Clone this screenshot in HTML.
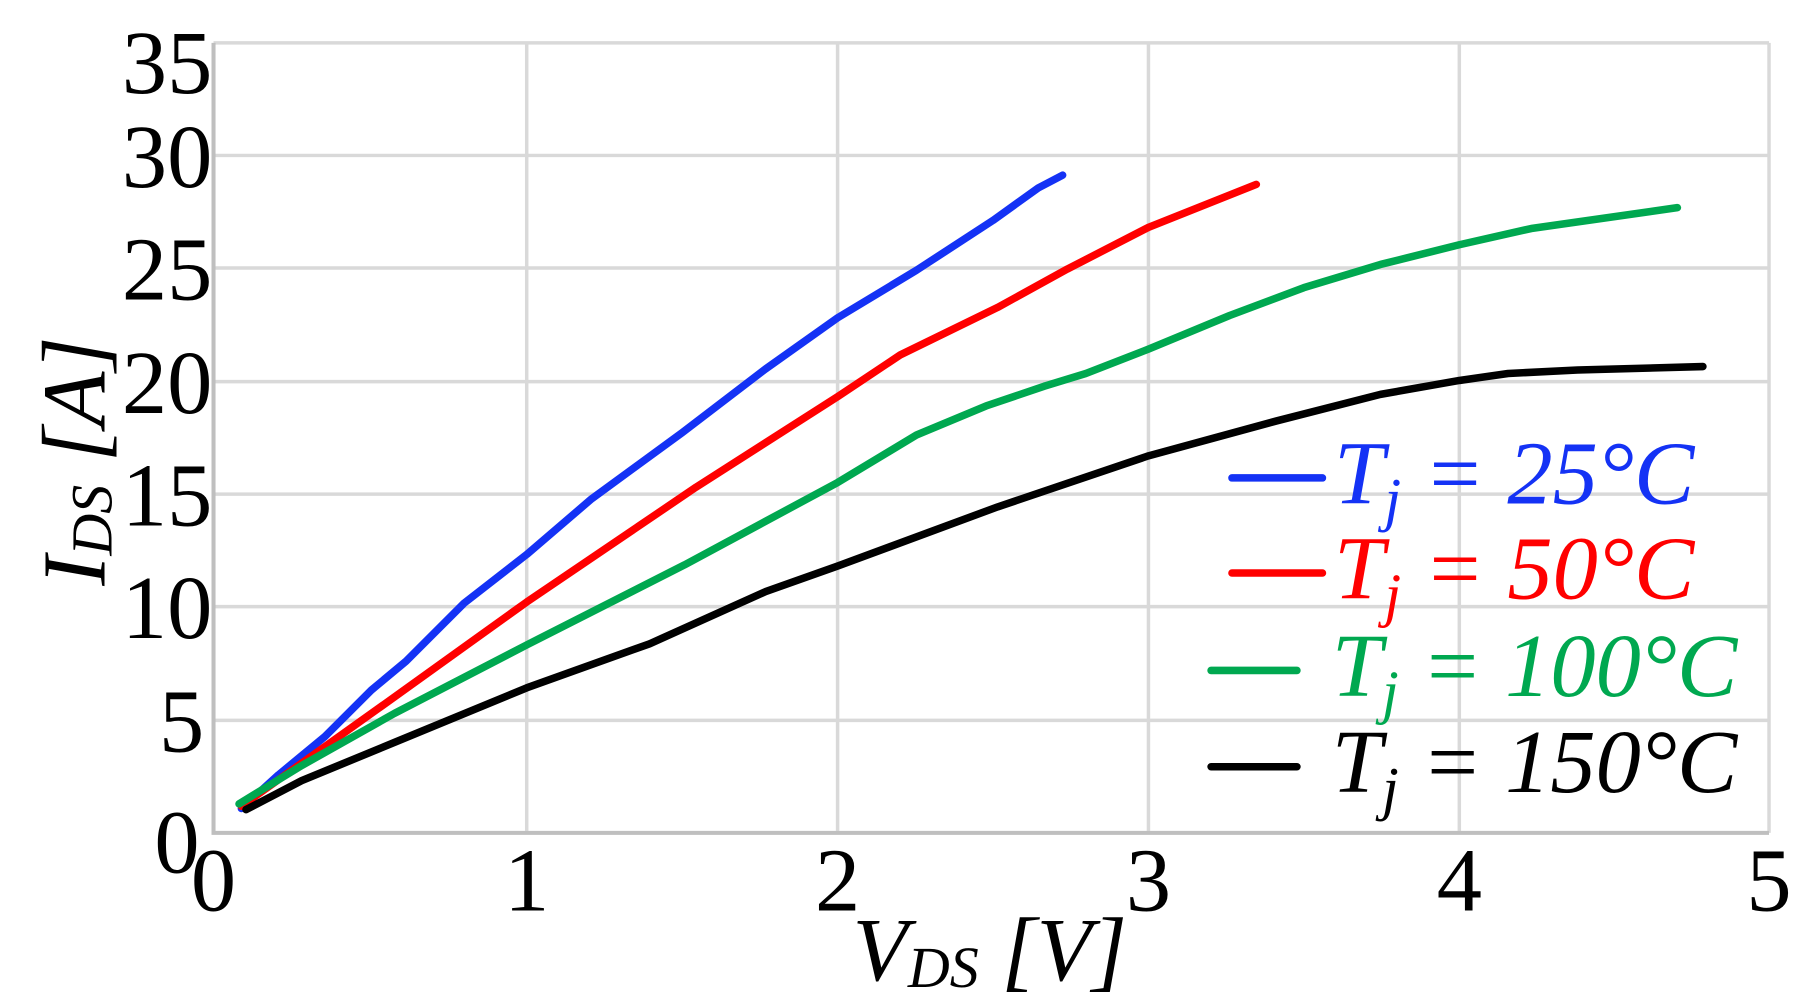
<!DOCTYPE html>
<html><head><style>html,body{margin:0;padding:0;background:#fff}svg{display:block}</style></head>
<body>
<svg width="1819" height="1008" viewBox="0 0 1568 869" xmlns="http://www.w3.org/2000/svg" font-family="'Liberation Serif',serif">
<g stroke="#d9d9d9" stroke-width="3" fill="none">
<line x1="454" y1="37" x2="454" y2="718"/><line x1="722" y1="37" x2="722" y2="718"/><line x1="990" y1="37" x2="990" y2="718"/><line x1="1258" y1="37" x2="1258" y2="718"/><line x1="1525" y1="37" x2="1525" y2="718"/>
<line x1="184" y1="37" x2="1525" y2="37"/><line x1="184" y1="134" x2="1525" y2="134"/><line x1="184" y1="231" x2="1525" y2="231"/><line x1="184" y1="329" x2="1525" y2="329"/><line x1="184" y1="426" x2="1525" y2="426"/><line x1="184" y1="523" x2="1525" y2="523"/><line x1="184" y1="621" x2="1525" y2="621"/>
</g>
<polyline points="184,37 184,718 1525,718" stroke="#bfbfbf" stroke-width="3.5" fill="none"/>
<g fill="none" stroke-width="6.5" stroke-linecap="round" stroke-linejoin="round">
<polyline stroke="#1432f5" points="208,697 240,668 280,635 320,595 350,570 400,520 454,478 510,430 588,373 660,318 722,274 790,233 856,190 895,162 916,151"/>
<polyline stroke="#ff0000" points="208,695 330,608 454,519 600,420 722,342 776,306 860,265 920,232 990,196 1083,159"/>
<polyline stroke="#00a850" points="206,693 260,660 340,615 454,556 590,487 722,416 790,375 850,350 900,333 936,322 990,301 1060,272 1124,248 1190,228 1258,211 1320,197 1446,179"/>
<polyline stroke="#000" points="212,698 260,673 340,640 454,593 560,555 660,510 722,488 860,437 990,393 1100,363 1190,340 1258,328 1300,322 1360,319 1468,316"/>
</g>
<g font-size="78" text-anchor="end" fill="#000">
<text x="183" y="80">35</text><text x="183" y="161">30</text><text x="183" y="258">25</text><text x="183" y="356">20</text><text x="183" y="453">15</text><text x="183" y="550">10</text><text x="176" y="648">5</text><text x="172" y="752">0</text>
</g>
<g font-size="78" text-anchor="middle" fill="#000">
<text x="184" y="785">0</text><text x="454" y="785">1</text><text x="722" y="785">2</text><text x="990" y="785">3</text><text x="1258" y="785">4</text><text x="1525" y="785">5</text>
</g>
<text x="735" y="845" font-size="78" font-style="italic">V<tspan font-size="50" dy="6">DS</tspan><tspan dy="-6"> [V]</tspan></text>
<text transform="translate(90,505) rotate(-90)" font-size="78" font-style="italic">I<tspan font-size="50" dy="6">DS</tspan><tspan dy="-6"> [A]</tspan></text>
<g stroke-width="6.5" stroke-linecap="round">
<line x1="1062" y1="412" x2="1140" y2="412" stroke="#1432f5"/>
<line x1="1062" y1="494" x2="1140" y2="494" stroke="#ff0000"/>
<line x1="1044" y1="578" x2="1118" y2="578" stroke="#00a850"/>
<line x1="1044" y1="661" x2="1118" y2="661" stroke="#000"/>
</g>
<g font-size="78" font-style="italic">
<text x="1150" y="434" fill="#1432f5">T<tspan font-size="52" dy="14">j</tspan><tspan dy="-14"> = 25°C</tspan></text>
<text x="1150" y="516" fill="#ff0000">T<tspan font-size="52" dy="14">j</tspan><tspan dy="-14"> = 50°C</tspan></text>
<text x="1148" y="600" fill="#00a850">T<tspan font-size="52" dy="14">j</tspan><tspan dy="-14"> = 100°C</tspan></text>
<text x="1148" y="683" fill="#000">T<tspan font-size="52" dy="14">j</tspan><tspan dy="-14"> = 150°C</tspan></text>
</g>
</svg>
</body></html>
